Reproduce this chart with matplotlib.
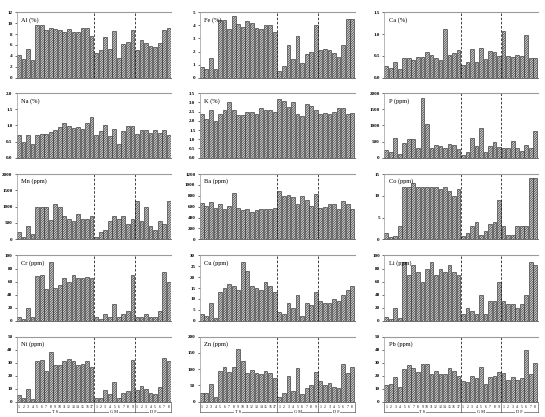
import matplotlib.pyplot as plt
import matplotlib.transforms as mtransforms
import numpy as np

plt.rcParams['font.family'] = ['Liberation Serif', 'DejaVu Serif']
plt.rcParams['hatch.linewidth'] = 0.4
plt.rcParams['hatch.color'] = '#3a3a3a'

# ---------------- data ----------------
group_names = ['T S', 'G M', 'D F']
group_sizes = [17, 9, 8]
tick_labels = [str(i) for n in group_sizes for i in range(1, n + 1)]

al = [4.2, 3.5, 5.2, 3.2, 9.7, 9.7, 8.8, 9.1, 9.0, 8.7, 8.4, 8.9, 8.4, 8.4, 9.1, 9.1, 7.7,
      4.6, 5.0, 7.4, 5.2, 8.6, 3.7, 6.1, 6.5, 8.7,
      5.1, 6.9, 6.4, 5.8, 5.7, 6.3, 8.7, 9.2]
fe = [0.8, 0.7, 1.5, 0.7, 4.4, 4.4, 3.7, 4.7, 4.1, 3.9, 4.3, 4.2, 3.8, 3.7, 4.0, 4.0, 3.5,
      0.5, 0.9, 2.5, 1.4, 3.2, 1.1, 1.8, 2.0, 4.0,
      2.1, 2.2, 2.1, 1.9, 1.6, 2.5, 4.5, 4.5]
ca = [0.27, 0.22, 0.37, 0.21, 0.45, 0.45, 0.41, 0.48, 0.47, 0.58, 0.51, 0.46, 0.41, 1.12, 0.51, 0.57, 0.63,
      0.29, 0.37, 0.65, 0.37, 0.67, 0.42, 0.62, 0.59, 0.50,
      1.08, 0.50, 0.47, 0.52, 0.50, 0.99, 0.46, 0.45]
na = [0.72, 0.50, 0.72, 0.43, 0.72, 0.75, 0.73, 0.80, 0.87, 0.95, 1.07, 0.98, 0.93, 0.95, 0.88, 1.08, 1.25,
      0.72, 0.82, 1.00, 0.67, 0.90, 0.43, 0.82, 0.98, 0.97,
      0.73, 0.85, 0.85, 0.78, 0.85, 0.77, 0.87, 0.70]
k = [2.4, 2.1, 2.6, 2.0, 2.4, 2.6, 3.0, 2.6, 2.3, 2.3, 2.5, 2.5, 2.4, 2.7, 2.6, 2.6, 2.5,
     3.2, 3.1, 2.75, 3.05, 2.4, 2.25, 2.9, 2.8,
     2.6, 2.35, 2.45, 2.4, 2.5, 2.7, 2.7, 2.4, 2.45]
p = [230, 180, 620, 130, 450, 570, 570, 310, 1840, 1060, 310, 400, 350, 310, 430, 390, 260,
     90, 180, 610, 360, 910, 180, 360, 480, 320,
     310, 310, 530, 310, 210, 400, 310, 830]
mn = [230, 80, 400, 150, 1000, 1000, 1000, 600, 1080, 1000, 700, 620, 560, 780, 620, 620, 700,
      80, 230, 300, 550, 700, 620, 700, 470, 620,
      1180, 550, 1000, 400, 300, 550, 470, 1180]
ba = [660, 620, 690, 580, 650, 560, 610, 850, 580, 540, 560, 500, 540, 560, 560, 560, 570,
      880, 790, 820, 780, 640, 800, 720, 610, 830,
      570, 600, 650, 650, 560, 700, 640, 560]
co = [1.5, 0.5, 0.8, 3.0, 12, 12, 13, 12, 12, 12, 12, 12, 11.5, 12, 11, 10, 11.5,
      0.8, 1.5, 3.0, 4.0, 1.0, 2.0, 3.5, 4.0, 9.0,
      3.0, 1.0, 1.0, 3.0, 3.0, 3.0, 14, 14]
cr = [5, 3, 20, 5, 68, 70, 48, 90, 50, 55, 65, 60, 70, 65, 65, 67, 65,
      5, 3, 10, 5, 25, 5, 10, 15, 70,
      5, 5, 10, 5, 5, 15, 75, 60]
cu = [3, 2, 8, 1, 13, 15, 17, 16, 14, 27, 23, 16, 15, 14, 18, 16, 13,
      4, 3, 8, 6, 12, 2, 8, 7, 13,
      9, 8, 8, 10, 9, 12, 14, 16]
li = [5, 3, 20, 4, 90, 70, 85, 75, 60, 80, 90, 70, 80, 75, 85, 75, 70,
      10, 20, 15, 10, 40, 10, 30, 30, 60,
      30, 25, 25, 20, 25, 40, 90, 85]
ni = [5, 3, 10, 2, 31, 32, 24, 38, 28, 28, 31, 33, 31, 28, 29, 31, 27,
      3, 3, 9, 6, 15, 3, 7, 8, 32,
      9, 12, 10, 7, 6, 11, 34, 31]
zn = [27, 28, 55, 15, 95, 108, 92, 107, 162, 125, 87, 97, 87, 84, 94, 88, 72,
      15, 27, 78, 33, 103, 23, 43, 51, 92,
      63, 52, 59, 45, 43, 115, 88, 107]
pb = [13, 14, 19, 11, 25, 28, 26, 23, 29, 29, 21, 24, 21, 21, 26, 24, 20,
      16, 15, 20, 18, 27, 14, 19, 20, 23,
      22, 17, 19, 17, 18, 40, 21, 30]

# title, values, y ticks, tick format, dashed separators
panels = [
    ('Al (%)', al, np.arange(0, 13, 2), '{:.0f}', True),
    ('Fe (%)', fe, np.arange(0, 6, 1), '{:.0f}', True),
    ('Ca (%)', ca, np.arange(0, 1.51, 0.5), '{:.1f}', True),
    ('Na (%)', na, np.arange(0, 2.01, 0.5), '{:.1f}', False),
    ('K (%)', k, np.arange(0, 3.51, 0.5), '{:.1f}', False),
    ('P (ppm)', p, np.arange(0, 2001, 500), '{:.0f}', True),
    ('Mn (ppm)', mn, np.arange(0, 2001, 500), '{:.0f}', True),
    ('Ba (ppm)', ba, np.arange(0, 1201, 200), '{:.0f}', True),
    ('Co (ppm)', co, np.arange(0, 16, 5), '{:.0f}', True),
    ('Cr (ppm)', cr, np.arange(0, 101, 20), '{:.0f}', True),
    ('Cu (ppm)', cu, np.arange(0, 31, 5), '{:.0f}', True),
    ('Li (ppm)', li, np.arange(0, 101, 20), '{:.0f}', True),
    ('Ni (ppm)', ni, np.arange(0, 51, 10), '{:.0f}', True),
    ('Zn (ppm)', zn, np.arange(0, 201, 50), '{:.0f}', True),
    ('Pb (ppm)', pb, np.arange(0, 51, 10), '{:.0f}', True),
]

# ---------------- layout (pixels of a 545x417 canvas) ----------------
W, H = 545, 417
col_x = [(16.7, 171.0), (199.5, 354.5), (384.0, 537.5)]
row_y = [(12.3, 77.7), (93.3, 157.7), (174.0, 239.3), (255.5, 320.5), (336.7, 401.7)]

fig = plt.figure(figsize=(W / 100, H / 100), dpi=100)

n = len(al)
x = np.arange(n)
bounds = np.cumsum(group_sizes)[:-1] - 0.5

for idx, (title, vals, yt, fmt, dashed) in enumerate(panels):
    r, c = divmod(idx, 3)
    x0, x1 = col_x[c]
    y0, y1 = row_y[r]
    ax = fig.add_axes([x0 / W, 1 - y1 / H, (x1 - x0) / W, (y1 - y0) / H])

    ax.bar(x, vals, width=0.82, facecolor='#d4d4d4', edgecolor='#222222',
           linewidth=0.4, hatch='/' * 14)
    ax.set_xlim(-0.5, n - 0.5)
    ax.set_ylim(0, yt[-1])
    ax.set_yticks(yt)
    ax.set_yticklabels([fmt.format(v) for v in yt], fontsize=3.6, fontweight='bold')
    ax.tick_params(axis='y', length=1.5, width=0.4, pad=1.5)
    ax.tick_params(axis='x', length=0)
    ax.set_xticks([])

    ax.spines['right'].set_visible(False)
    ax.spines['top'].set_color('#9a9a9a')
    ax.spines['top'].set_linewidth(0.8)
    ax.spines['left'].set_color('#9a9a9a')
    ax.spines['left'].set_linewidth(0.5)
    ax.spines['bottom'].set_color('#555555')
    ax.spines['bottom'].set_linewidth(0.6)

    if dashed:
        for b in bounds:
            ax.axvline(b, color='#222222', linestyle=(0, (3, 2)), linewidth=0.6)

    ax.text(0.03, 0.93, title, transform=ax.transAxes, fontsize=4.6,
            ha='left', va='top')

    # grouped category axis on the bottom row
    if r == len(row_y) - 1:
        trans = mtransforms.blended_transform_factory(ax.transData, ax.transAxes)
        for i, lab in enumerate(tick_labels):
            ax.text(i, -0.075, lab, transform=trans, fontsize=2.7,
                    ha='center', va='center', clip_on=False)
        edges = [-0.5] + list(bounds) + [n - 0.5]
        for e in edges:
            ax.plot([e, e], [-0.02, -0.155], transform=trans, color='#333333',
                    linewidth=0.4, clip_on=False)
        for g, name in enumerate(group_names):
            ax.plot([edges[g], edges[g + 1]], [-0.155, -0.155], transform=trans,
                    color='#333333', linewidth=0.4, clip_on=False)
            ax.text((edges[g] + edges[g + 1]) / 2, -0.155, name, transform=trans,
                    fontsize=3.2, ha='center', va='center', clip_on=False,
                    bbox=dict(facecolor='white', edgecolor='none', pad=0.6))

fig.savefig('out.png', dpi=100)
